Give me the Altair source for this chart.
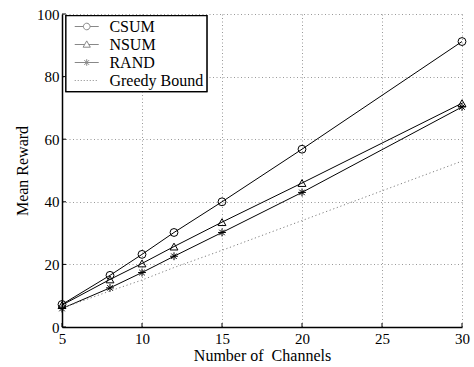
import altair as alt
import pandas as pd

channels = [5, 8, 10, 12, 15, 20, 30]
csum = [7.2, 16.5, 23.2, 30.2, 40.0, 56.8, 91.2]
nsum = [7.0, 15.2, 20.3, 25.7, 33.5, 46.0, 71.5]
rand = [5.9, 12.5, 17.4, 22.6, 30.2, 43.0, 70.3]
greedy = [6.0, 11.5, 15.0, 19.0, 24.5, 34.0, 53.0]

series_names = ["CSUM", "NSUM", "RAND", "Greedy Bound"]
x_ticks = [5, 10, 15, 20, 25, 30]
y_ticks = [0, 20, 40, 60, 80, 100]

rows = []
for name, vals in zip(series_names, [csum, nsum, rand, greedy]):
    for c, v in zip(channels, vals):
        rows.append({"channels": c, "reward": v, "series": name})
df = pd.DataFrame(rows)
df_solid = df[df.series != "Greedy Bound"]
df_greedy = df[df.series == "Greedy Bound"]

FONT = "Liberation Serif"
W, H = 400, 313

xscale = alt.Scale(domain=[5, 30], nice=False, zero=False)
yscale = alt.Scale(domain=[0, 100], nice=False)
xaxis = alt.Axis(values=x_ticks, title="Number of\u00a0 Channels")
yaxis = alt.Axis(values=y_ticks, title="Mean Reward")

ASTER = "M-1,0L1,0M0,-1L0,1M-0.7,-0.7L0.7,0.7M-0.7,0.7L0.7,-0.7"

# legend symbols: line + marker, in units of 6px, shifted right
L0, L1, C = -0.33, 3.67, 1.67
def f(v):
    return f"{v:.3f}"
r = 0.55
leg_circle = (f"M{f(L0)},0L{f(C-r)},0M{f(C+r)},0L{f(L1)},0"
              f"M{f(C+r)},0A{r},{r},0,1,1,{f(C-r)},0A{r},{r},0,1,1,{f(C+r)},0")
leg_tri = (f"M{f(L0)},0L{f(C-0.34)},0M{f(C+0.34)},0L{f(L1)},0"
           f"M{f(C)},-0.6L{f(C+0.6)},0.45L{f(C-0.6)},0.45Z")
leg_aster = (f"M{f(L0)},0L{f(L1)},0M{f(C)},-0.55L{f(C)},0.55"
             f"M{f(C-0.4)},-0.4L{f(C+0.4)},0.4M{f(C-0.4)},0.4L{f(C+0.4)},-0.4")
dots = []
x = L0
while x < L1:
    dots.append(f"M{f(x)},0L{f(x+0.17)},0")
    x += 0.5
leg_dot = "".join(dots)

X = lambda field: alt.X(field, scale=xscale, axis=xaxis)
Y = lambda field: alt.Y(field, scale=yscale, axis=yaxis)

lines = alt.Chart(df_solid).mark_line(color="black", strokeWidth=1).encode(
    x=X("channels:Q"), y=Y("reward:Q"), detail="series:N",
)

greedy_line = alt.Chart(df_greedy).mark_line(
    color="#808080", strokeWidth=1, strokeDash=[1.2, 2.6]
).encode(x=X("channels:Q"), y=Y("reward:Q"))

points = alt.Chart(df_solid).mark_point(filled=False, color="black", strokeWidth=1, size=62, opacity=1).encode(
    x=X("channels:Q"), y=Y("reward:Q"),
    shape=alt.Shape("series:N",
                    scale=alt.Scale(domain=series_names[:3],
                                    range=["circle", "triangle-up", ASTER]),
                    legend=None),
)

leg = alt.Legend(title=None, orient="none", legendX=3.7, legendY=1.5,
                 symbolSize=144, symbolOpacity=1,
                 symbolStrokeWidth=1, symbolFillColor="transparent",
                 labelOffset=24.7, padding=3, rowPadding=2,
                 labelFont=FONT, labelFontSize=16, labelColor="black",
                 strokeColor="black", fillColor="white")

legend_carrier = alt.Chart(df).mark_point(filled=False, opacity=0, size=1).encode(
    x=X("channels:Q"), y=Y("reward:Q"),
    shape=alt.Shape("series:N",
                    scale=alt.Scale(domain=series_names,
                                    range=[leg_circle, leg_tri, leg_aster, leg_dot]),
                    legend=leg),
    color=alt.Color("series:N",
                    scale=alt.Scale(domain=series_names,
                                    range=["black", "black", "black", "#808080"]),
                    legend=leg),
)

xt = pd.DataFrame({"channels": x_ticks})
yt = pd.DataFrame({"reward": y_ticks})
xtick_marks = alt.Chart(xt).mark_rule(color="black", strokeWidth=1).encode(
    x=X("channels:Q"), y=alt.value(H), y2=alt.value(H - 4),
)
ytick_marks = alt.Chart(yt).mark_rule(color="black", strokeWidth=1).encode(
    y=Y("reward:Q"), x=alt.value(0), x2=alt.value(4),
)

chart = alt.layer(
    lines, greedy_line, points, legend_carrier, xtick_marks, ytick_marks
).resolve_scale(shape="independent").properties(
    width=W, height=H,
    autosize=alt.AutoSizeParams(type="none"),
    padding={"left": 62, "top": 14, "right": 12, "bottom": 40},
).configure_view(stroke=None).configure_axis(
    grid=True, gridColor="#999999", gridDash=[1, 2.5], gridWidth=1,
    domainColor="black", domainWidth=1.5, ticks=False,
    labelFont=FONT, labelFontSize=15, labelColor="black",
    titleFont=FONT, titleFontSize=16, titleColor="black", titleFontWeight="normal",
).configure_axisX(labelPadding=4, titlePadding=1, labelFlush=False).configure_axisY(
    labelPadding=3, titlePadding=6
).configure_legend(strokeWidth=1.3)

chart.save("out.html", embed_options={"renderer": "svg", "actions": False})
